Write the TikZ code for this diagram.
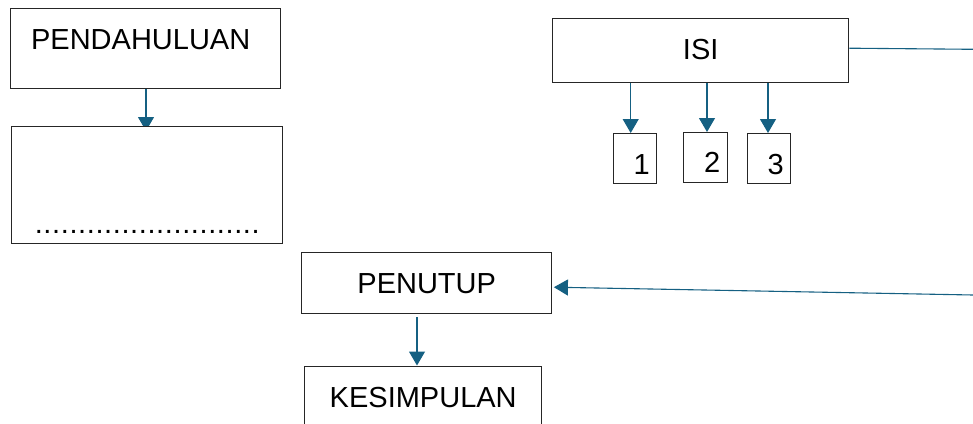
\documentclass[tikz,border=0pt]{standalone}
\usepackage{fontspec}
\setmainfont{Liberation Sans}
\usetikzlibrary{arrows.meta,backgrounds}
\definecolor{arrowc}{HTML}{156082}
\definecolor{boxc}{HTML}{262626}
\begin{document}
\begin{tikzpicture}[x=1pt,y=-1pt,
  box/.style={draw=boxc,line width=1.4pt,fill=white,inner sep=0pt,anchor=north west,
    font=\fontsize{29}{34}\selectfont},
  conn/.style={draw=arrowc,line width=1.1pt},
  arr/.style={conn,-{Triangle[length=14pt,width=16pt]}}]
\useasboundingbox (0,0) rectangle (973,423);
\clip (0,0) rectangle (973,423);
% boxes
\node[box,minimum width=270pt,minimum height=80pt,text height=41pt,text depth=39pt] (pend) at (10,8) {PENDAHULUAN\hspace*{10pt}};
\node[box,minimum width=271pt,minimum height=117pt,text height=107pt,text depth=10pt] (isian) at (11,126)
  {\addfontfeature{LetterSpace=2.1}..........................};
\node[box,minimum width=296pt,minimum height=64pt,text height=41pt,text depth=23pt] (isi) at (552,18) {ISI};
\node[box,minimum width=43pt,minimum height=50pt,text height=41pt,text depth=9pt] (b1) at (613,133) {\hspace*{13pt}1};
\node[box,minimum width=44pt,minimum height=50pt,text height=40pt,text depth=10pt] (b2) at (683,132) {\hspace*{13pt}2};
\node[box,minimum width=43pt,minimum height=50pt,text height=41pt,text depth=9pt] (b3) at (747,133) {\hspace*{13pt}3};
\node[box,minimum width=250pt,minimum height=61pt,text height=41pt,text depth=20pt] (pen) at (301,252) {PENUTUP};
\node[box,minimum width=237pt,minimum height=66pt,text height=41.5pt,text depth=24.5pt] (kes) at (304,365.5) {KESIMPULAN};
% connector coordinates
\coordinate (a0) at (146,0);
\coordinate (a1) at (630.7,0);
\coordinate (a2) at (707,0);
\coordinate (a3) at (768,0);
\coordinate (a4) at (417,0);
\coordinate (e1) at (973,49.3);
\coordinate (e2) at (973,295);
\begin{scope}[on background layer]
\draw[arr,shorten >=-5pt] (pend.south -| a0) -- (isian.north -| a0);
\end{scope}
\draw[arr] (isi.south -| a1) -- (b1.north -| a1);
\draw[arr] (isi.south -| a2) -- (b2.north -| a2);
\draw[arr] (isi.south -| a3) -- (b3.north -| a3);
\draw[conn] ([yshift=2.5pt]isi.east) -- (e1);
\draw[arr] (e2) -- ([xshift=1.5pt,yshift=-4pt]pen.east);
\draw[arr] ([yshift=-3pt]pen.south -| a4) -- (kes.north -| a4);
\end{tikzpicture}
\end{document}
